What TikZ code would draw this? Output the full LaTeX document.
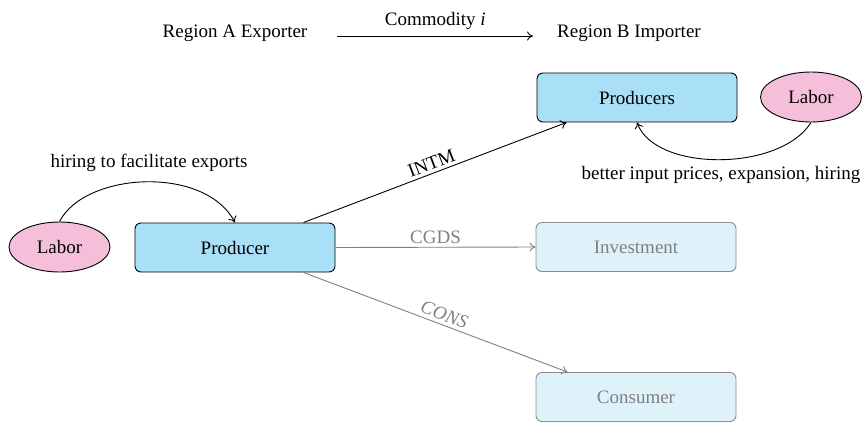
\documentclass[tikz,border=0pt]{standalone}
\usepackage{fontspec}
\setmainfont{Liberation Serif}
\usetikzlibrary{arrows.meta,shapes.geometric}
\definecolor{prodblue}{HTML}{A9DFF7}
\definecolor{palblue}{HTML}{DFF2FA}
\definecolor{laborpink}{HTML}{F5BFD9}
\definecolor{dimgray}{HTML}{808080}
\tikzset{
  every node/.style={font=\fontsize{19}{23}\selectfont},
  conn/.style={line width=0.9pt,-{To[length=6pt,width=9pt]}},
  dimconn/.style={conn,draw=dimgray},
  prodbox/.style={draw,line width=0.9pt,rounded corners=6pt,fill=prodblue,minimum width=200pt,minimum height=49pt,inner sep=0pt},
  dimbox/.style={draw=dimgray!90,line width=0.9pt,rounded corners=6pt,fill=palblue,text=dimgray,minimum width=200pt,minimum height=49pt,inner sep=0pt},
  laborell/.style={ellipse,draw,line width=0.9pt,fill=laborpink,inner sep=0pt,minimum width=101pt,minimum height=50pt},
  plain/.style={inner sep=2pt}
}
\begin{document}
\begin{tikzpicture}[x=1pt,y=-1pt]
\useasboundingbox (0,0) rectangle (865,421);
% title
\node[plain] (regA) at (235,33) {Region A Exporter};
\node[plain] (regB) at (629,33) {Region B Importer};
\draw[conn] ([xshift=28pt,yshift=-3pt]regA.east) -- ([xshift=-22pt,yshift=-3pt]regB.west)
  node[midway,above=3pt] {Commodity \textit{i}};
% nodes
\node[prodbox] (prods) at (637,97.5) {Producers};
\node[laborell] (labR) at (811,97) {Labor};
\node[plain] (betterlbl) at (721,175) {better input prices, expansion, hiring};
\node[laborell] (labL) at (59.5,247) {Labor};
\node[prodbox] (prod) at (235,247.5) {Producer};
\node[plain] (hirelbl) at (149,163) {hiring to facilitate exports};
\node[dimbox] (inv) at (636,247) {Investment};
\node[dimbox] (cons) at (636,397) {Consumer};
% curved arrows
\draw[conn] (labL.north) .. controls (85,172) and (205,165) .. (prod.north);
\draw[conn] (labR.south) .. controls (780,172) and (655,172) .. (prods.south);
% flows
\draw[conn] ([xshift=-32pt]prod.north east) -- node[sloped,above,pos=0.5] {INTM} ([xshift=30pt]prods.south west);
\draw[dimconn] (prod.east) -- node[above,text=dimgray,pos=0.5] {CGDS} (inv.west);
\draw[dimconn] ([xshift=-32pt]prod.south east) -- node[sloped,above,text=dimgray,pos=0.52] {\textit{CONS}} ([xshift=32pt]cons.north west);
\end{tikzpicture}
\end{document}
